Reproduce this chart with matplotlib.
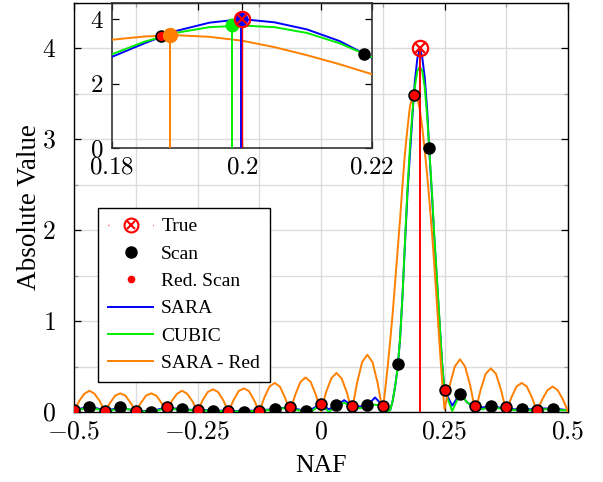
import matplotlib
matplotlib.use('Agg')
import matplotlib.pyplot as plt
import numpy as np
from matplotlib.lines import Line2D
from matplotlib.legend_handler import HandlerTuple
from matplotlib.ticker import MultipleLocator, FuncFormatter

plt.rcParams['font.family'] = 'Liberation Serif'
plt.rcParams['mathtext.fontset'] = 'cm'

# true source
true_x = 0.2
true_y = 4.0

# scan grid (32 points) and values
scan_x = np.arange(32) / 32 - 0.5
scan_y = np.array([0.02, 0.06, 0.015, 0.055, 0.015, 0.005, 0.05, 0.03,
                   0.025, 0.015, 0.01, 0.005, 0.015, 0.035, 0.055, 0.01,
                   0.09, 0.08, 0.07, 0.08, 0.07, 0.53, 3.49, 2.91,
                   0.24, 0.20, 0.065, 0.07, 0.055, 0.035, 0.02, 0.035])
red_x = scan_x[::2]
red_y = scan_y[::2]

# curve sample positions
x_left = np.linspace(-0.5, 0.125, 41)     # step 1/64
x_mid = np.linspace(0.13, 0.245, 24)      # step 0.005
x_right = np.linspace(0.25, 0.5, 17)      # step 1/64

sara_left = [0.02, 0.04, 0.06, 0.04, 0.015, 0.03, 0.05, 0.03, 0.015, 0.01,
             0.01, 0.03, 0.05, 0.04, 0.03, 0.025, 0.02, 0.02, 0.02, 0.015,
             0.01, 0.01, 0.01, 0.015, 0.02, 0.025, 0.03, 0.045, 0.05, 0.03,
             0.01, 0.04, 0.09, 0.03, 0.07, 0.13, 0.07, 0.06, 0.07, 0.16, 0.07]
sara_mid = [0.03, 0.01, 0.02, 0.12, 0.28, 0.48, 0.80, 1.28, 1.85, 2.40,
            2.83, 3.25, 3.64, 3.89, 4.00, 3.90, 3.68, 3.32, 2.80, 2.35,
            1.85, 1.42, 0.98, 0.55]
sara_right = [0.24, 0.07, 0.20, 0.10, 0.06, 0.05, 0.07, 0.05, 0.04, 0.03,
              0.03, 0.03, 0.03, 0.04, 0.03, 0.03, 0.02]

cubic_left = [0.02, 0.03, 0.06, 0.03, 0.015, 0.02, 0.05, 0.03, 0.015, 0.005,
              0.01, 0.02, 0.05, 0.03, 0.03, 0.02, 0.02, 0.015, 0.02, 0.01,
              0.01, 0.005, 0.01, 0.01, 0.02, 0.02, 0.03, 0.04, 0.05, 0.02,
              0.01, 0.02, 0.09, 0.0, 0.07, 0.10, 0.07, 0.04, 0.07, 0.08, 0.07]
cubic_mid = [0.03, 0.01, 0.02, 0.12, 0.28, 0.48, 0.80, 1.28, 1.88, 2.45,
             2.91, 3.30, 3.58, 3.75, 3.80, 3.75, 3.57, 3.25, 2.82, 2.38,
             1.88, 1.45, 1.00, 0.55]
cubic_right = [0.24, 0.01, 0.20, 0.10, 0.05, 0.03, 0.07, 0.04, 0.04, 0.02,
               0.03, 0.02, 0.03, 0.03, 0.03, 0.02, 0.02]

# SARA - Red
xo_left = np.linspace(-0.5, 0.125, 61)
xo_mid = np.linspace(0.13, 0.245, 24)
xo_right = np.linspace(0.25, 0.5, 25)
red_left = [0.005, 0.12, 0.20, 0.234, 0.20, 0.12,
            0.005, 0.10, 0.18, 0.205, 0.18, 0.10,
            0.005, 0.10, 0.18, 0.205, 0.18, 0.10,
            0.005, 0.12, 0.20, 0.234, 0.20, 0.12,
            0.005, 0.13, 0.22, 0.25, 0.22, 0.13,
            0.005, 0.13, 0.23, 0.26, 0.23, 0.13,
            0.005, 0.16, 0.28, 0.32, 0.28, 0.16,
            0.005, 0.19, 0.33, 0.38, 0.33, 0.19,
            0.005, 0.22, 0.37, 0.43, 0.37, 0.22,
            0.005, 0.32, 0.55, 0.63, 0.55, 0.32,
            0.005]
red_mid = [0.25, 0.50, 0.78, 1.08, 1.42, 1.77, 2.12, 2.50, 2.85, 3.12,
           3.36, 3.46, 3.50, 3.45, 3.33, 3.13, 2.88, 2.60, 2.29, 1.95,
           1.57, 1.16, 0.74, 0.35]
red_right = [0.03, 0.29, 0.50, 0.58, 0.50, 0.29,
             0.005, 0.24, 0.42, 0.48, 0.42, 0.24,
             0.005, 0.16, 0.28, 0.32, 0.28, 0.16,
             0.005, 0.14, 0.24, 0.28, 0.24, 0.14,
             0.005]

# peak estimates (inset)
est_sara = (0.1998, 4.0)
est_cubic = (0.1984, 3.81)
est_red = (0.1889, 3.50)

BLUE = '#0000ff'
GREEN = '#00ee00'
ORANGE = '#ff8000'
RED = '#ff0000'

sara_x = np.concatenate([x_left, x_mid, x_right])
sara_y = np.concatenate([sara_left, sara_mid, sara_right])
cubic_y = np.concatenate([cubic_left, cubic_mid, cubic_right])
sred_x = np.concatenate([xo_left, xo_mid, xo_right])
sred_y = np.concatenate([red_left, red_mid, red_right])


def tick_fmt(v, pos):
    return '$%g$' % round(v, 4)


fig = plt.figure(figsize=(6.03, 4.82), dpi=100)
ax = fig.add_axes([74 / 603, 1 - 412 / 482, 494 / 603, 409 / 482])


def draw_curves(a):
    a.plot(sara_x, sara_y, color=BLUE, lw=1.4, zorder=3)
    a.plot(sara_x, cubic_y, color=GREEN, lw=1.4, zorder=3)
    a.plot(sred_x, sred_y, color=ORANGE, lw=1.4, zorder=3)


def draw_circx(a, x, y, s=11):
    a.plot([x], [y], 'o', ms=s, mfc='none', mec=RED, mew=1.6, zorder=8)
    a.plot([x], [y], 'x', ms=s * 0.6, mec=RED, mew=1.6, zorder=8)


draw_curves(ax)
ax.vlines(true_x, 0, true_y, color=RED, lw=1.4, zorder=4)
ax.plot(scan_x, scan_y, 'o', color='black', ms=8, zorder=5)
ax.plot(red_x, red_y, 'o', color=RED, ms=5.5, zorder=6)
draw_circx(ax, true_x, true_y)

ax.set_xlim(-0.5, 0.5)
ax.set_ylim(0, 4.5)
ax.xaxis.set_major_locator(MultipleLocator(0.25))
ax.xaxis.set_minor_locator(MultipleLocator(0.125))
ax.yaxis.set_major_locator(MultipleLocator(1))
ax.yaxis.set_minor_locator(MultipleLocator(0.5))
ax.xaxis.set_major_formatter(FuncFormatter(tick_fmt))
ax.yaxis.set_major_formatter(FuncFormatter(tick_fmt))
ax.grid(True, which='both', color='#dcdcdc', lw=1.0, zorder=0)
ax.set_axisbelow(True)
ax.tick_params(which='both', direction='in', top=True, right=True)
ax.tick_params(which='major', length=5, width=0.9, labelsize=18.5)
ax.tick_params(axis='x', which='major', pad=7)
ax.tick_params(axis='y', which='major', pad=13)
ax.tick_params(which='minor', length=3, width=0.9, color='#999999')
for sp in ax.spines.values():
    sp.set_linewidth(1.0)
ax.set_xlabel('NAF', fontsize=18.5, labelpad=8)
ax.set_ylabel('Absolute Value', fontsize=19.5, labelpad=0)

# legend
true_dots = Line2D([], [], color=RED, lw=1.0, linestyle=(0, (0.6, 31.4)))
true_o = Line2D([], [], ls='none', marker='o', ms=10, mfc='none', mec=RED, mew=1.5)
true_x_m = Line2D([], [], ls='none', marker='x', ms=6, mec=RED, mew=1.5)
h_scan = Line2D([], [], ls='none', marker='o', color='black', ms=8)
h_red = Line2D([], [], ls='none', marker='o', color=RED, ms=4.5)
h_sara = Line2D([], [], color=BLUE, lw=1.4)
h_cubic = Line2D([], [], color=GREEN, lw=1.4)
h_sred = Line2D([], [], color=ORANGE, lw=1.4)
leg = ax.legend([(true_dots, true_o, true_x_m), h_scan, h_red, h_sara, h_cubic, h_sred],
                ['True', 'Scan', 'Red. Scan', 'SARA', 'CUBIC', 'SARA - Red'],
                handler_map={tuple: HandlerTuple(ndivide=1)},
                loc='upper left', bbox_to_anchor=(98 / 603, 1 - 208 / 482),
                bbox_transform=fig.transFigure, borderaxespad=0,
                fontsize=14, handlelength=2.35, handletextpad=0.4,
                labelspacing=0.5, borderpad=0.5, numpoints=1,
                fancybox=False, framealpha=1, edgecolor='black')
leg.get_frame().set_linewidth(1.0)
leg.set_zorder(10)

# inset
ins = fig.add_axes([112 / 603, 1 - 148 / 482, 260 / 603, 145 / 482])
ins.set_facecolor('none')
draw_curves(ins)
ins.vlines(est_red[0], 0, est_red[1], color=ORANGE, lw=1.4, zorder=4)
ins.vlines(est_cubic[0], 0, est_cubic[1], color=GREEN, lw=1.4, zorder=4)
ins.vlines(est_sara[0], 0, est_sara[1], color=BLUE, lw=1.4, zorder=4)
ins.vlines(true_x, 0, true_y, color=RED, lw=1.0, zorder=4)
ins.plot(scan_x, scan_y, 'o', color='black', ms=8, zorder=5)
ins.plot(red_x, red_y, 'o', color=RED, ms=5.5, zorder=6)
ins.plot([est_red[0]], [est_red[1]], 'o', color=ORANGE, ms=10, zorder=6)
ins.plot([est_cubic[0]], [est_cubic[1]], 'o', color=GREEN, ms=9, zorder=6)
ins.plot([est_sara[0]], [est_sara[1]], 'o', color=BLUE, ms=9, zorder=6)
draw_circx(ins, true_x, true_y)
ins.set_xlim(0.18, 0.22)
ins.set_ylim(0, 4.5)
ins.set_xticks([0.18, 0.2, 0.22])
ins.set_yticks([0, 2, 4])
ins.xaxis.set_major_formatter(FuncFormatter(tick_fmt))
ins.yaxis.set_major_formatter(FuncFormatter(tick_fmt))
ins.tick_params(direction='in', top=True, right=True, length=5, width=0.9,
                labelsize=18)
ins.tick_params(axis='x', pad=6)
ins.tick_params(axis='y', pad=6)
for sp in ins.spines.values():
    sp.set_linewidth(1.2)
    sp.set_color('#333333')

fig.savefig('out.png', dpi=100)
